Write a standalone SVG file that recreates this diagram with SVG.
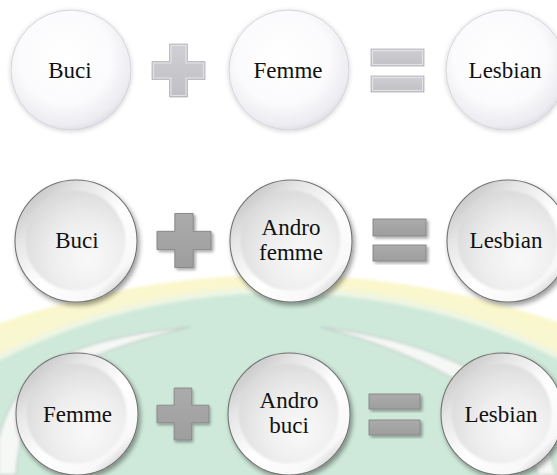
<svg xmlns="http://www.w3.org/2000/svg" width="557" height="475" viewBox="0 0 557 475">
  <defs>
    <style>
      text { font-family: 'Liberation Serif', 'Times New Roman', serif; font-size: 23px; fill: #111; text-anchor: middle; }
      .flat { fill: url(#flatFill); stroke: #d4d4da; stroke-width: 1; filter: url(#glow); }
      .rim { fill: url(#rimFill); stroke: #737373; stroke-width: 1.1; filter: url(#drop); }
      .cap { fill: url(#capFill); filter: url(#capBlur); }
      .opLight { fill: url(#opLightFill); stroke: #b2b2b8; stroke-width: 0.8; }
      .bevel { fill: none; stroke: #e2e2e6; stroke-width: 1.2; }
      .opDark { fill: url(#opDarkFill); stroke: #858585; stroke-width: 0.9; filter: url(#dropSmall); }
    </style>
    <radialGradient id="flatFill" cx="45%" cy="40%" r="62%">
      <stop offset="0" stop-color="#ffffff"/>
      <stop offset="0.62" stop-color="#fbfbfd"/>
      <stop offset="0.9" stop-color="#ececf1"/>
      <stop offset="1" stop-color="#dcdce3"/>
    </radialGradient>
    <linearGradient id="rimFill" x1="0.1" y1="0.05" x2="0.9" y2="0.95">
      <stop offset="0" stop-color="#bdbdbd"/>
      <stop offset="0.25" stop-color="#e6e6e6"/>
      <stop offset="0.55" stop-color="#ffffff"/>
      <stop offset="0.85" stop-color="#f8f8f8"/>
      <stop offset="1" stop-color="#bdbdbd"/>
    </linearGradient>
    <radialGradient id="capFill" cx="62%" cy="66%" r="75%" fx="62%" fy="68%">
      <stop offset="0" stop-color="#f9f9f9"/>
      <stop offset="0.45" stop-color="#efefef"/>
      <stop offset="0.8" stop-color="#e0e0e0"/>
      <stop offset="1" stop-color="#d4d4d4"/>
    </radialGradient>
    <linearGradient id="opLightFill" x1="0" y1="0" x2="0" y2="1">
      <stop offset="0" stop-color="#d0d0d4"/>
      <stop offset="1" stop-color="#c0c0c4"/>
    </linearGradient>
    <linearGradient id="opDarkFill" x1="0" y1="0" x2="0" y2="1">
      <stop offset="0" stop-color="#ababab"/>
      <stop offset="1" stop-color="#9e9e9e"/>
    </linearGradient>
    <filter id="glow" x="-20%" y="-20%" width="140%" height="140%">
      <feGaussianBlur in="SourceAlpha" stdDeviation="2.5"/>
      <feOffset dx="0" dy="1"/>
      <feComponentTransfer><feFuncA type="linear" slope="0.18"/></feComponentTransfer>
      <feMerge><feMergeNode/><feMergeNode in="SourceGraphic"/></feMerge>
    </filter>
    <filter id="drop" x="-20%" y="-20%" width="145%" height="145%">
      <feGaussianBlur in="SourceAlpha" stdDeviation="2.5"/>
      <feOffset dx="2" dy="3"/>
      <feComponentTransfer><feFuncA type="linear" slope="0.4"/></feComponentTransfer>
      <feMerge><feMergeNode/><feMergeNode in="SourceGraphic"/></feMerge>
    </filter>
    <filter id="dropSmall" x="-20%" y="-20%" width="145%" height="145%">
      <feGaussianBlur in="SourceAlpha" stdDeviation="1.5"/>
      <feOffset dx="1.5" dy="2"/>
      <feComponentTransfer><feFuncA type="linear" slope="0.35"/></feComponentTransfer>
      <feMerge><feMergeNode/><feMergeNode in="SourceGraphic"/></feMerge>
    </filter>
    <filter id="capBlur" x="-10%" y="-10%" width="120%" height="120%">
      <feGaussianBlur stdDeviation="1.2"/>
    </filter>
    <filter id="soft" x="-5%" y="-5%" width="110%" height="110%">
      <feGaussianBlur stdDeviation="1.6"/>
    </filter>
    <path id="plus" d="M-9,-26.5 h18 v17.5 h17.5 v18 h-17.5 v17.5 h-18 v-17.5 h-17.5 v-18 h17.5 z"/>
    <path id="plusIn" d="M-7.5,-25 h15 v17.5 h17.5 v15 h-17.5 v17.5 h-15 v-17.5 h-17.5 v-15 h17.5 z"/>
  </defs>

  <rect width="557" height="475" fill="#ffffff"/>

  <!-- faint emblem behind the lower rows -->
  <g id="emblem" filter="url(#soft)">
    <circle cx="280" cy="1115" r="840" fill="#fbf7cc"/>
    <circle cx="280" cy="1115" r="833" fill="#f8f6d2" opacity="0.6"/>
    <circle cx="280" cy="911" r="624" fill="#eef5e2"/>
    <circle cx="280" cy="911" r="618" fill="#cee9da"/>
    <!-- left crescent -->
    <path d="M190,327 C150,331 100,338 62,356 C30,372 8,400 -2,440 L-2,475 L16,475 C18,440 30,405 55,378 C85,356 135,340 190,327 Z" fill="#f5f8f5" stroke="#c4cfca" stroke-width="1.5"/>
    <!-- right crescent -->
    <path d="M320,327 C380,334 440,350 490,380 C525,402 545,430 556,475 L538,475 C528,440 505,410 470,388 C430,364 380,342 320,327 Z" fill="#f5f8f5" stroke="#c4cfca" stroke-width="1.5"/>
  </g>

  <!-- plus and equals signs between the circles -->
  <g id="operators">
    <use href="#plus" transform="translate(178.5,70.5)" class="opLight"/>
    <use href="#plusIn" transform="translate(178.5,70.5)" class="bevel"/>
    <rect x="371" y="49" width="53" height="17" class="opLight"/>
    <rect x="372.5" y="50.5" width="50" height="14" class="bevel"/>
    <rect x="371" y="76" width="53" height="16" class="opLight"/>
    <rect x="372.5" y="77.5" width="50" height="13" class="bevel"/>

    <use href="#plus" transform="translate(184,240.5) scale(1.02)" class="opDark"/>
    <rect x="373" y="219" width="53" height="17" class="opDark"/>
    <rect x="373" y="245" width="53" height="16" class="opDark"/>

    <use href="#plus" transform="translate(183,414) scale(0.98)" class="opDark"/>
    <rect x="369" y="394" width="51" height="15" class="opDark"/>
    <rect x="369" y="420" width="51" height="15" class="opDark"/>
  </g>

  <!-- row 1 -->
  <g id="r1-buci">
    <circle cx="71" cy="70" r="60" class="flat"/>
    <text x="70" y="78">Buci</text>
  </g>
  <g id="r1-femme">
    <circle cx="289" cy="70" r="60" class="flat"/>
    <text x="288" y="78">Femme</text>
  </g>
  <g id="r1-lesbian">
    <circle cx="506" cy="70" r="60" class="flat"/>
    <text x="505" y="78">Lesbian</text>
  </g>

  <!-- row 2 -->
  <g id="r2-buci">
    <circle cx="76" cy="241" r="61" class="rim"/>
    <circle cx="75.5" cy="240.5" r="50" class="cap"/>
    <text x="77" y="248">Buci</text>
  </g>
  <g id="r2-androfemme">
    <circle cx="291" cy="241" r="61" class="rim"/>
    <circle cx="290.5" cy="240.5" r="50" class="cap"/>
    <text x="291" y="235">Andro</text>
    <text x="291" y="260">femme</text>
  </g>
  <g id="r2-lesbian">
    <circle cx="508" cy="241" r="61" class="rim"/>
    <circle cx="507.5" cy="240.5" r="50" class="cap"/>
    <text x="506" y="248">Lesbian</text>
  </g>

  <!-- row 3 -->
  <g id="r3-femme">
    <circle cx="77" cy="414" r="61" class="rim"/>
    <circle cx="76.5" cy="413.5" r="50" class="cap"/>
    <text x="77.5" y="422">Femme</text>
  </g>
  <g id="r3-androbuci">
    <circle cx="289" cy="414" r="61" class="rim"/>
    <circle cx="288.5" cy="413.5" r="50" class="cap"/>
    <text x="289" y="408">Andro</text>
    <text x="289" y="433">buci</text>
  </g>
  <g id="r3-lesbian">
    <circle cx="502" cy="414" r="61" class="rim"/>
    <circle cx="501.5" cy="413.5" r="50" class="cap"/>
    <text x="501" y="422">Lesbian</text>
  </g>
</svg>
